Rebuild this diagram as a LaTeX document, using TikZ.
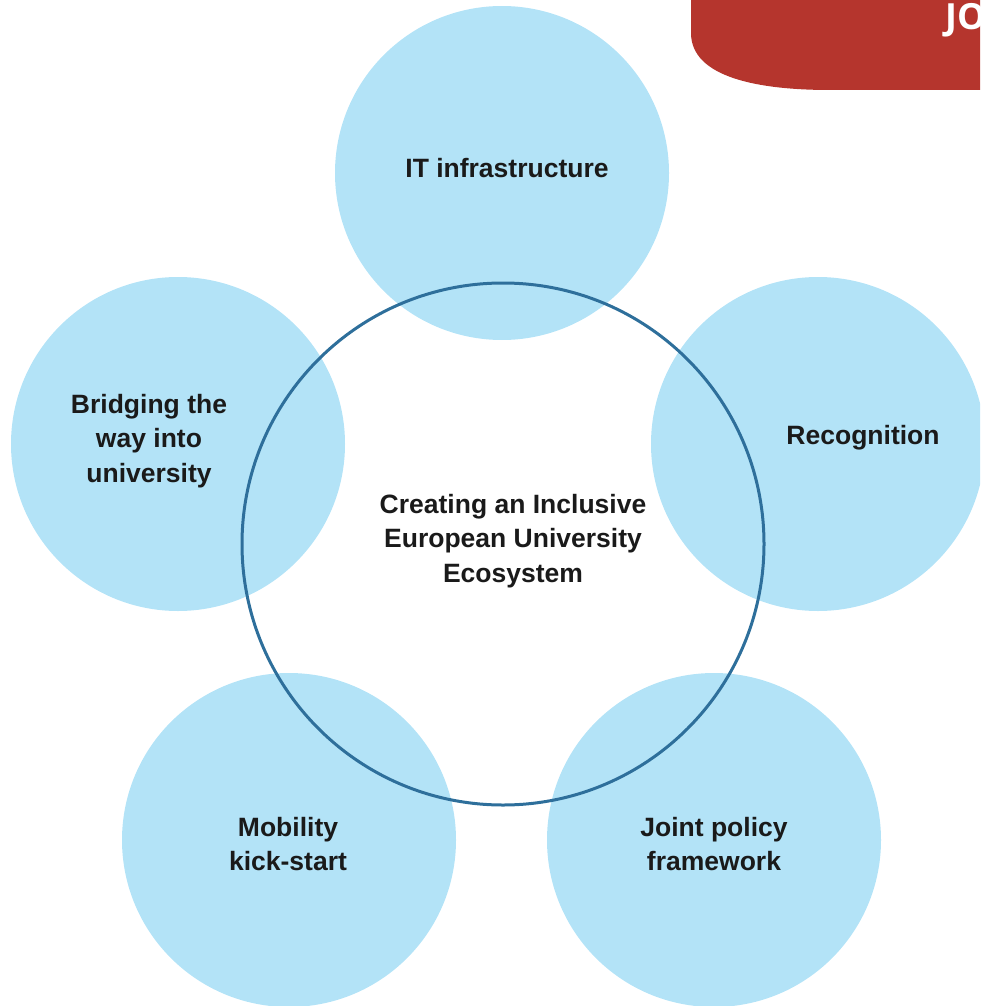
\documentclass[tikz,border=0pt]{standalone}
\usepackage{fontspec}
\setmainfont{Liberation Sans}
\newfontfamily\titlefont{Open Sans}
\definecolor{petal}{HTML}{B3E3F7}
\definecolor{ring}{HTML}{2E6F9B}
\definecolor{banner}{HTML}{B5352D}
\definecolor{ink}{HTML}{1A1A1A}
\begin{document}
\begin{tikzpicture}[x=1pt,y=-1pt,
  petalc/.style={circle,fill=petal,inner sep=0pt,minimum size=334pt},
  lbl/.style={align=center,text=ink,font=\fontsize{26.5}{34.5}\selectfont\bfseries,inner sep=0pt}]
\useasboundingbox (0,0) rectangle (980,1006);
\begin{scope}
\clip (0,0) rectangle (980,1006);
% banner
\fill[banner] (691,-10) -- (691,33) .. controls (691,78) and (760,90) .. (830,90) -- (990,90) -- (990,-10) -- cycle;
\node[anchor=base west,text=white,font=\fontsize{36}{40}\titlefont\bfseries,inner sep=0pt] (ttl) at (945,30) {JO};
% petals
\node[petalc] (c1) at (502,173) {};
\node[petalc] (c2) at (818,444) {};
\node[petalc] (c3) at (714,840) {};
\node[petalc] (c4) at (289,840) {};
\node[petalc] (c5) at (178,444) {};
% ring
\node[circle,draw=ring,line width=3pt,inner sep=0pt,minimum size=522pt] (hub) at (503,544) {};
\end{scope}
% labels
\node[lbl] (t1) at (507,168) {IT infrastructure};
\node[lbl] (t2) at (863,438) {Recognition};
\node[lbl] (t3) at (714,844) {Joint policy\\framework};
\node[lbl] (t4) at (288,844) {Mobility\\kick-start};
\node[lbl] (t5) at (149,441) {Bridging the\\way into\\university};
\node[lbl] (t0) at (513,541) {Creating an Inclusive\\European University\\Ecosystem};
\end{tikzpicture}
\end{document}
